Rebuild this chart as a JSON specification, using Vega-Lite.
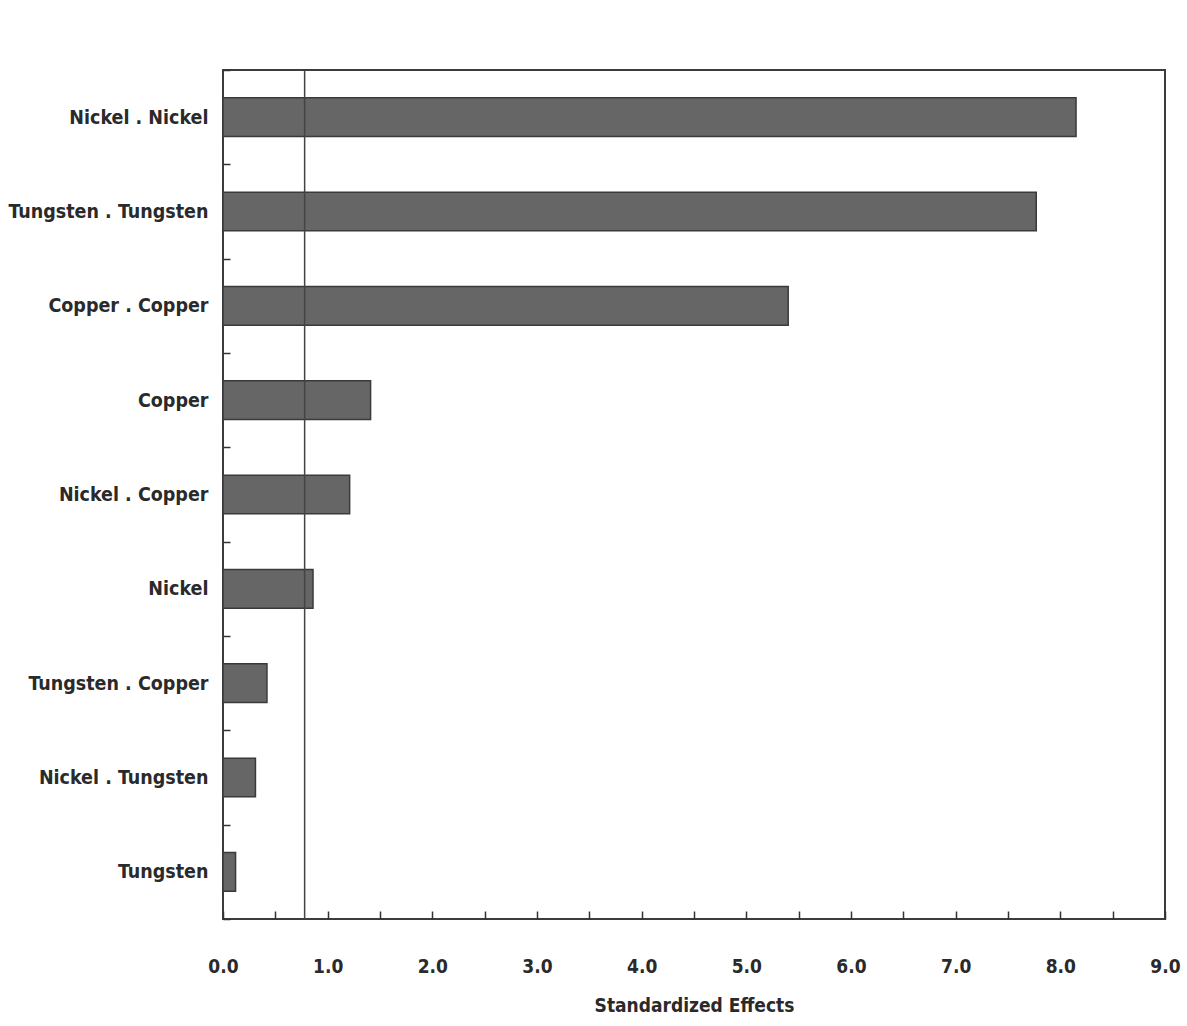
{
  "$schema": "https://vega.github.io/schema/vega-lite/v6.json",
  "width": 942,
  "height": 849,
  "autosize": {"type": "none"},
  "padding": {"left": 223, "top": 70, "right": 22, "bottom": 107},
  "background": "white",
  "config": {
    "view": {"stroke": "#3c3c3c", "strokeWidth": 2},
    "font": "DejaVu Sans Condensed, Liberation Sans, sans-serif"
  },
  "layer": [
    {
      "data": {
        "values": [
          {"term": "Nickel . Nickel", "effect": 8.15},
          {"term": "Tungsten . Tungsten", "effect": 7.77},
          {"term": "Copper . Copper", "effect": 5.40},
          {"term": "Copper", "effect": 1.41},
          {"term": "Nickel . Copper", "effect": 1.21},
          {"term": "Nickel", "effect": 0.86},
          {"term": "Tungsten . Copper", "effect": 0.42},
          {"term": "Nickel . Tungsten", "effect": 0.31},
          {"term": "Tungsten", "effect": 0.12}
        ]
      },
      "mark": {"type": "bar", "height": {"band": 0.41}, "fill": "#666666", "stroke": "#3a3a3a", "strokeWidth": 1.5},
      "encoding": {
        "y": {
          "field": "term", "type": "nominal", "sort": null,
          "scale": {"paddingInner": 0, "paddingOuter": 0},
          "axis": {
            "title": null, "domain": false, "ticks": true, "tickBand": "extent",
            "tickSize": -7, "tickColor": "#333", "tickWidth": 1.5,
            "labelFontSize": 19.5, "labelFontWeight": "bold", "labelColor": "#2a2a2a",
            "labelPadding": 22, "labelLimit": 400
          }
        },
        "x": {
          "field": "effect", "type": "quantitative",
          "scale": {"domain": [0, 9], "nice": false},
          "axis": {
            "title": "Standardized Effects", "titleFontSize": 19, "titleFontWeight": "bold",
            "titleColor": "#2a2a2a", "titlePadding": 20,
            "values": [0, 0.5, 1, 1.5, 2, 2.5, 3, 3.5, 4, 4.5, 5, 5.5, 6, 6.5, 7, 7.5, 8, 8.5, 9],
            "labelExpr": "datum.value % 1 == 0 ? format(datum.value, '.1f') : ''",
            "labelOverlap": false, "labelFlush": false,
            "domain": false, "grid": false,
            "tickSize": -8, "tickColor": "#333", "tickWidth": 1.5,
            "labelFontSize": 19, "labelFontWeight": "bold", "labelColor": "#2a2a2a",
            "labelPadding": 46
          }
        }
      }
    },
    {
      "data": {"values": [{"critical": 0.78}]},
      "mark": {"type": "rule", "color": "#444", "strokeWidth": 1.5},
      "encoding": {
        "x": {"field": "critical", "type": "quantitative"}
      }
    }
  ]
}
